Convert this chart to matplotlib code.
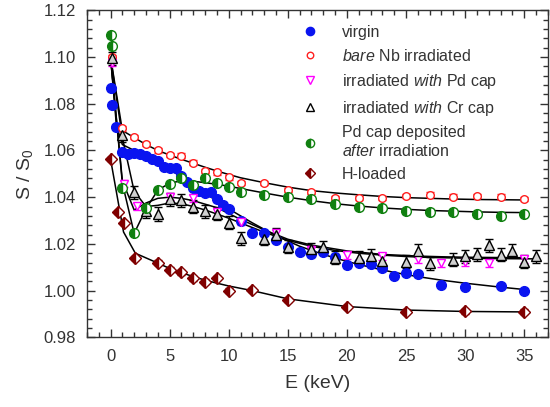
import matplotlib
matplotlib.use("Agg")
import matplotlib.pyplot as plt
from matplotlib.lines import Line2D
from matplotlib.ticker import MultipleLocator

plt.rcParams["font.family"] = ["Liberation Sans", "DejaVu Sans"]
plt.rcParams["mathtext.fontset"] = "custom"
plt.rcParams["mathtext.rm"] = "Liberation Sans"
plt.rcParams["mathtext.it"] = "Liberation Sans:italic"

# ---- data: virgin ----
virgin_E = [0.0, 0.1, 0.5, 1.0, 1.5, 2.0, 2.5, 3.0, 3.5, 4.0, 4.5, 5.0, 5.5, 6.0,
            6.5, 7.0, 7.5, 8.0, 8.5, 9.0, 9.5, 10.0, 11.0, 12.0, 13.0, 14.0, 15.0,
            16.0, 17.0, 18.0, 19.0, 20.0, 21.0, 22.0, 23.0, 24.0, 25.0, 26.0,
            28.0, 30.0, 33.0, 35.0]
virgin_S = [1.0865, 1.0794, 1.0700, 1.0594, 1.0585, 1.0590, 1.0585, 1.0575, 1.0565,
            1.0555, 1.0530, 1.0525, 1.0525, 1.0490, 1.0466, 1.0440, 1.0425, 1.0418,
            1.0423, 1.0390, 1.0368, 1.0350, 1.0300, 1.0247, 1.0247, 1.0218, 1.0185,
            1.0165, 1.0155, 1.0165, 1.0145, 1.0108, 1.0120, 1.0112, 1.0095, 1.0063,
            1.0076, 1.0070, 1.0025, 1.0015, 1.0020, 0.9998]
virgin_fitE = [0, 0.5, 1, 2, 3, 4, 5, 6, 7, 8, 9, 10, 12, 14, 16, 18, 20, 22, 24,
               26, 28, 30, 33, 35]
virgin_fitS = [1.100, 1.0705, 1.0625, 1.0600, 1.0575, 1.0550, 1.0520, 1.0485, 1.0450,
               1.0415, 1.0385, 1.0350, 1.0290, 1.0235, 1.0190, 1.0155, 1.0125, 1.0100,
               1.0078, 1.0060, 1.0045, 1.0032, 1.0015, 1.0005]

# ---- data: bare Nb irradiated ----
bare_E = [0.1, 1, 2, 3, 4, 5, 6, 7, 8, 9, 10, 11, 13, 15, 17, 19, 21, 23, 25, 27,
          29, 31, 33, 35]
bare_S = [1.1000, 1.0695, 1.0657, 1.0627, 1.0601, 1.0580, 1.0577, 1.0548, 1.0512,
          1.0506, 1.0485, 1.0460, 1.0460, 1.0430, 1.0422, 1.0397, 1.0397, 1.0397,
          1.0405, 1.0410, 1.0402, 1.0405, 1.0402, 1.0392]
bare_fitE = [0, 1, 2, 3, 4, 5, 6, 7, 8, 9, 10, 11, 13, 15, 17, 19, 21, 23, 25, 27,
             29, 31, 33, 35]
bare_fitS = [1.100, 1.0685, 1.0655, 1.0625, 1.0600, 1.0580, 1.0562, 1.0545, 1.0528,
             1.0512, 1.0497, 1.0483, 1.0462, 1.0443, 1.0428, 1.0418, 1.0410, 1.0403,
             1.0398, 1.0395, 1.0392, 1.0390, 1.0389, 1.0388]

# ---- data: irradiated with Pd cap ----
pd_E = [0.1, 1.1, 2.2, 5, 7, 9, 11, 14, 17, 20, 23, 26, 28, 30, 32, 35]
pd_S = [1.0975, 1.0458, 1.0362, 1.0402, 1.0396, 1.0335, 1.0295, 1.0245, 1.0174,
        1.0152, 1.0148, 1.0134, 1.0117, 1.0122, 1.0118, 1.0135]
pd_fitE = [0, 1, 2, 3, 4, 5, 6, 7, 8, 9, 10, 11, 13, 15, 17, 20, 23, 26, 28, 30,
           32, 35]
pd_fitS = [1.100, 1.047, 1.0345, 1.0375, 1.0395, 1.0400, 1.0395, 1.0385, 1.0370,
           1.0355, 1.0330, 1.0305, 1.0260, 1.0220, 1.0195, 1.0170, 1.0155, 1.0148,
           1.0145, 1.0143, 1.0142, 1.0141]

# ---- data: irradiated with Cr cap ----
cr_E = [0.1, 1, 2, 3, 4, 5, 6, 7, 8, 9, 10, 11, 13, 14, 15, 17, 18, 19, 21, 22,
        23, 25, 26, 27, 29, 30, 31, 32, 33, 34, 35, 36]
cr_S = [1.0995, 1.0665, 1.0420, 1.0340, 1.0328, 1.0390, 1.0386, 1.0360, 1.0340,
        1.0330, 1.0290, 1.0225, 1.0223, 1.0238, 1.0187, 1.0177, 1.0186, 1.0140,
        1.0140, 1.0150, 1.0125, 1.0123, 1.0170, 1.0118, 1.0133, 1.0148, 1.0155,
        1.0195, 1.0153, 1.0170, 1.0123, 1.0148]
cr_fitE = [0, 1, 2, 3, 4, 5, 6, 7, 8, 9, 10, 11, 13, 15, 17, 19, 21, 23, 25, 27,
           29, 31, 33, 36]
cr_fitS = [1.100, 1.0655, 1.0425, 1.0360, 1.0365, 1.0375, 1.0372, 1.0360, 1.0345,
           1.0328, 1.0310, 1.0290, 1.0250, 1.0215, 1.0190, 1.0172, 1.0160, 1.0152,
           1.0146, 1.0142, 1.0140, 1.0138, 1.0137, 1.0136]

# ---- data: Pd cap deposited after irradiation ----
after_E = [0.05, 0.1, 1, 2, 3, 4, 5, 6, 7, 8, 9, 10, 11, 13, 15, 17, 19, 21, 23,
           25, 27, 29, 31, 33, 35]
after_S = [1.1093, 1.1045, 1.0440, 1.0248, 1.0355, 1.0430, 1.0456, 1.0482, 1.0450,
           1.0480, 1.0460, 1.0443, 1.0422, 1.0410, 1.0400, 1.0390, 1.0370, 1.0357,
           1.0353, 1.0341, 1.0337, 1.0337, 1.0330, 1.0320, 1.0330]
after_fitE = [0, 1, 2, 3, 4, 5, 6, 7, 8, 9, 10, 11, 13, 15, 17, 19, 21, 23, 25, 27,
              29, 31, 33, 35]
after_fitS = [1.100, 1.046, 1.0245, 1.0350, 1.0430, 1.0460, 1.0470, 1.0468, 1.0462,
              1.0455, 1.0447, 1.0437, 1.0418, 1.0400, 1.0385, 1.0372, 1.0362, 1.0354,
              1.0348, 1.0343, 1.0340, 1.0337, 1.0335, 1.0334]

# ---- data: H-loaded ----
h_E = [0, 0.6, 1.1, 2.1, 4, 5, 6, 7, 8, 9, 10, 12, 15, 20, 25, 30, 35]
h_S = [1.0563, 1.0336, 1.0290, 1.0140, 1.0120, 1.0090, 1.0078, 1.0053, 1.0038,
       1.0054, 1.0000, 1.0003, 0.9960, 0.9930, 0.9910, 0.9912, 0.9910]
h_fitE = [0, 1.1, 2.1, 4, 5, 6, 7, 8, 9, 10, 12, 15, 20, 25, 30, 35]
h_fitS = [1.0563, 1.0251, 1.0160, 1.0118, 1.0095, 1.0077, 1.0060, 1.0045, 1.0032,
          1.0020, 1.0000, 0.9965, 0.9932, 0.9917, 0.9911, 0.9909]

labels = ["virgin",
          r"$\it{bare}$ Nb irradiated",
          r"irradiated $\it{with}$ Pd cap",
          r"irradiated $\it{with}$ Cr cap",
          "Pd cap deposited\n" + r"$\it{after}$ irradiation",
          "H-loaded"]

# ---------------------------------------------------------------
fig = plt.figure(figsize=(5.5, 4.07), dpi=100)
ax = fig.add_axes([0.158, 0.171, 0.838, 0.804])

fits = [(virgin_fitE, virgin_fitS), (bare_fitE, bare_fitS), (pd_fitE, pd_fitS),
        (cr_fitE, cr_fitS), (after_fitE, after_fitS), (h_fitE, h_fitS)]
for fe, fs in fits:
    ax.plot(fe, fs, color="black", lw=1.1, zorder=2)

# marker styles
styles = [
    dict(marker="o", ms=7, mfc="#0a14f0", mec="#0a14f0", color="#0a14f0", yerr=0.0010),
    dict(marker="o", ms=5.5, mfc="white", mec="#ff2020", color="#ff2020", yerr=0.0010),
    dict(marker="v", ms=6, mfc="white", mec="#ff00ff", color="#ff00ff", yerr=0.0015),
    dict(marker="^", ms=7, mfc="#d0d0d0", mec="black", color="black", yerr=0.0028),
    dict(marker="o", ms=7, mfc="#108010", mec="#108010", color="#108010",
         fillstyle="left", mfcalt="white", yerr=0.0012),
    dict(marker="D", ms=6, mfc="#800000", mec="#800000", color="#800000",
         fillstyle="left", mfcalt="white", yerr=0.0010),
]
series = [(virgin_E, virgin_S), (bare_E, bare_S), (pd_E, pd_S), (cr_E, cr_S),
          (after_E, after_S), (h_E, h_S)]

handles = []
for (xs, ys), st in zip(series, styles):
    kw = dict(marker=st["marker"], markersize=st["ms"],
              markerfacecolor=st["mfc"], markeredgecolor=st["mec"],
              markeredgewidth=1.0, linestyle="none")
    if "fillstyle" in st:
        kw["fillstyle"] = st["fillstyle"]
        kw["markerfacecoloralt"] = st["mfcalt"]
    ax.errorbar(xs, ys, yerr=st["yerr"], ecolor=st["color"], elinewidth=1.0,
                capsize=3, capthick=1.0, zorder=3, **kw)
    hk = dict(kw)
    if st["marker"] == "^":
        hk["markerfacecolor"] = "white"
    hk["markersize"] = st["ms"] * 0.85
    handles.append(Line2D([], [], **hk))

ax.set_xlim(-2, 37)
ax.set_ylim(0.98, 1.12)
ax.xaxis.set_major_locator(MultipleLocator(5))
ax.xaxis.set_minor_locator(MultipleLocator(1))
ax.yaxis.set_major_locator(MultipleLocator(0.02))
ax.yaxis.set_minor_locator(MultipleLocator(0.004))
ax.yaxis.set_major_formatter(matplotlib.ticker.FormatStrFormatter("%.2f"))
ax.tick_params(which="both", direction="in", top=True, right=True,
               labelsize=12, labelcolor="#333333", color="#333333")
ax.tick_params(which="major", length=6, width=1.0, pad=8)
ax.tick_params(which="minor", length=3.5, width=1.0)
for sp in ax.spines.values():
    sp.set_color("#333333")
    sp.set_linewidth(1.0)

ax.set_xlabel("E (keV)", fontsize=14, color="#333333", labelpad=8)
ax.set_ylabel(r"S / S$_0$", fontsize=14, color="#333333", labelpad=6)

ax.legend(handles, labels, loc="upper left", bbox_to_anchor=(0.435, 1.0),
          frameon=False, fontsize=11.5, handlelength=1.0, handletextpad=1.5,
          labelspacing=0.5, labelcolor="#333333")

fig.savefig("out.png", dpi=100)
